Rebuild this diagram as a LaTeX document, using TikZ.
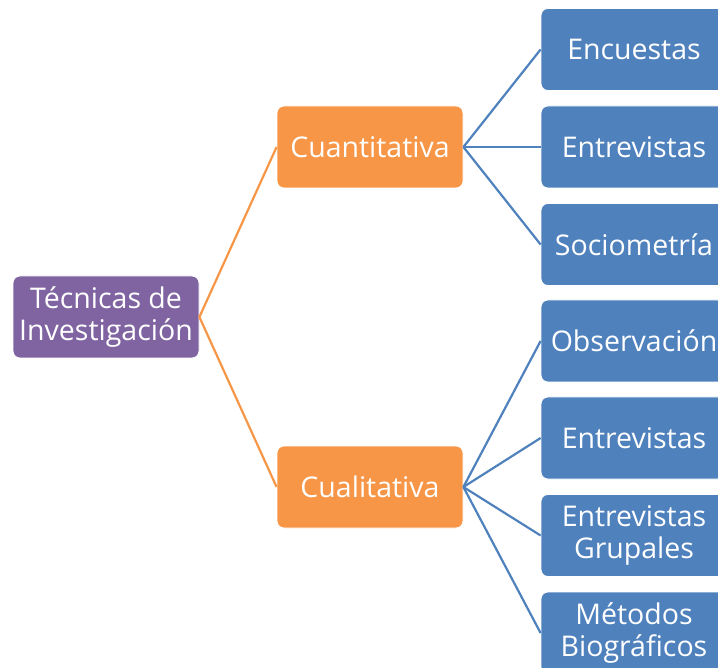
\documentclass[tikz,border=0pt]{standalone}
\usepackage{fontspec}
\setmainfont{Open Sans}
\definecolor{raiz}{HTML}{8064A2}
\definecolor{naranja}{HTML}{F79646}
\definecolor{azul}{HTML}{4F81BD}
\begin{document}
\begin{tikzpicture}[x=1pt,y=-1pt,
    caja/.style={rounded corners=7pt, draw=white, line width=0.8pt, text=white,
        minimum width=186pt, minimum height=82pt, align=center,
        font=\fontsize{28.5}{32}\selectfont},
    hoja/.style={caja, fill=azul},
    rama/.style={caja, fill=naranja},
    lazo/.style={line width=2.2pt}]
    \useasboundingbox (0,0) rectangle (718,668);
    \clip (0,0) rectangle (718,668);
    \node[caja, fill=raiz] (tecnicas) at (106,317) {Técnicas de\\Investigación};
    \node[rama] (cuanti) at (370,147) {Cuantitativa};
    \node[rama] (cuali) at (370,487) {Cualitativa};
    \node[hoja] (encuestas) at (634,49.5) {Encuestas};
    \node[hoja] (entrev) at (634,147) {Entrevistas};
    \node[hoja] (socio) at (634,244.5) {Sociometría};
    \node[hoja] (obs) at (634,341) {Observación};
    \node[hoja] (entrevb) at (634,438) {Entrevistas};
    \node[hoja] (grupales) at (634,535.5) {Entrevistas\\Grupales};
    \node[hoja] (metodos) at (634,633) {Métodos\\Biográficos};
    \draw[lazo, naranja] (cuanti.west) -- (tecnicas.east) -- (cuali.west);
    \foreach \h in {encuestas,entrev,socio}
        \draw[lazo, azul] (cuanti.east) -- (\h.west);
    \foreach \h in {obs,entrevb,grupales,metodos}
        \draw[lazo, azul] (cuali.east) -- (\h.west);
\end{tikzpicture}
\end{document}
